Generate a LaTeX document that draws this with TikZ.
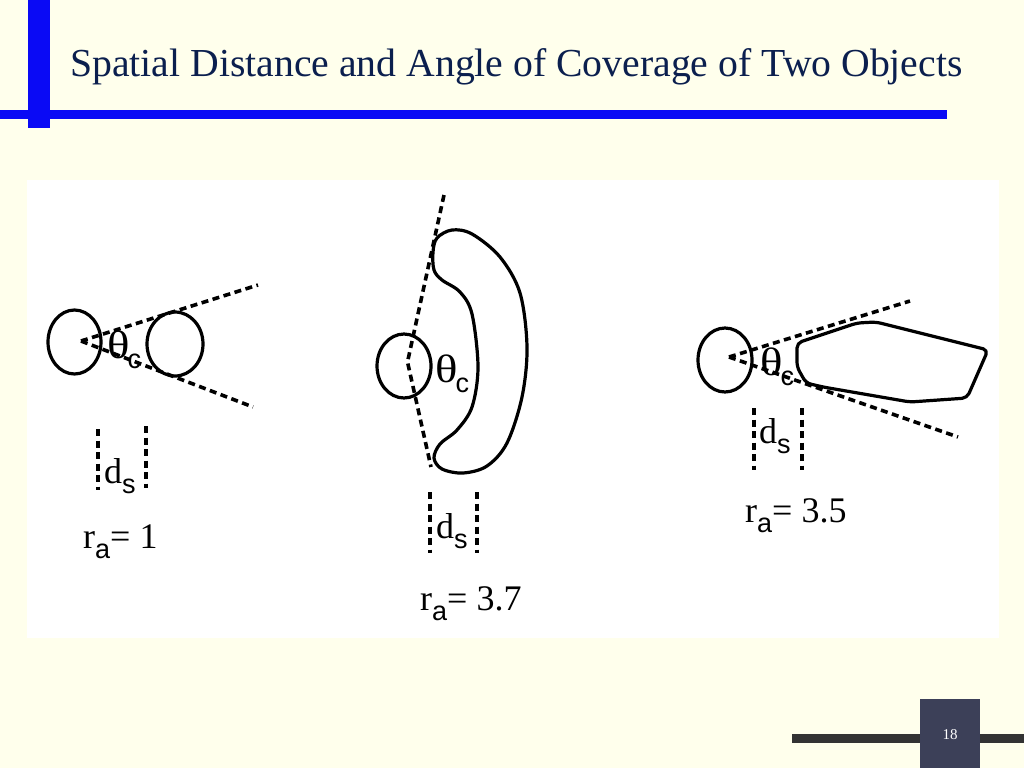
\documentclass[tikz,border=0pt]{standalone}
\usepackage{fontspec}
\setmainfont{Liberation Serif}
\setsansfont{Liberation Sans}
\definecolor{bgc}{HTML}{FFFFEC}
\definecolor{blueb}{HTML}{0A0AF5}
\definecolor{titlec}{HTML}{0B1F4E}
\definecolor{footc}{HTML}{333333}
\definecolor{boxc}{HTML}{3C4058}
\newcommand\mysub[1]{\raisebox{-0.3em}{\sffamily\fontsize{27}{27}\selectfont #1}}
\newcommand\widetheta{\scalebox{1.3}[1.1]{θ}\kern-2pt}
\begin{document}
\begin{tikzpicture}[x=1pt,y=-1pt,
  outline/.style={line width=3.2pt, line join=round},
  dashthick/.style={line width=3.6pt, dash pattern=on 7pt off 4.5pt},
  lbl/.style={inner sep=0pt, anchor=base west, font=\fontsize{36}{36}\selectfont}]
\useasboundingbox (0,0) rectangle (1024,768);
\fill[bgc] (0,0) rectangle (1024,768);
\fill[white] (27,180) rectangle (999,638);
% header bars
\fill[blueb] (28,0) rectangle (50,128);
\fill[blueb] (0,110) rectangle (947,119);
\node[anchor=base west, inner sep=0pt, text=titlec, font=\fontsize{39.7}{40}\selectfont] (title) at (70,76) {Spatial Distance and Angle of Coverage of Two Objects};
% footer
\fill[footc] (792,734) rectangle (1024,743);
\fill[boxc] (920,699) rectangle (980,768);
\node[text=white, inner sep=0pt, font=\fontsize{15}{15}\selectfont] (page) at (950,735) {18};

% ---------- figure 1 ----------
\draw[outline] (74.5,342) ellipse [x radius=26.5, y radius=32];
\draw[outline] (175,344) ellipse [x radius=28, y radius=32];
\coordinate (a1) at (81,341);
\coordinate (u1) at (258,285);
\coordinate (l1) at (253,407);
\draw[dashthick] (a1) -- (u1);
\draw[dashthick] (a1) -- (l1);
\node[lbl] (th1) at (107,358) {\widetheta\mysub{c}};
\coordinate (ds1a) at (98,429);  \coordinate (ds1b) at (98,490);
\coordinate (ds1c) at (146,426); \coordinate (ds1d) at (146,488);
\draw[dashthick] (ds1a) -- (ds1b);
\draw[dashthick] (ds1c) -- (ds1d);
\node[lbl] (d1) at (104,483) {d\mysub{s}};
\node[lbl] (r1) at (83,548) {r\mysub{a}= 1};

% ---------- figure 2 ----------
\draw[outline] (404,366) ellipse [x radius=27, y radius=32];
\coordinate (t2) at (444,195);
\coordinate (a2) at (407.5,362);
\coordinate (b2) at (431,467);
\draw[dashthick] (t2) -- (a2) -- (b2);
\draw[outline] plot[smooth cycle, tension=0.55] coordinates {
 (452,230) (437,238) (433,252) (434,270) (442,280) (460,292) (472,314) (478,367)
 (472,407) (457,430) (440,444) (434,458) (442,469) (463,473) (487,466)
 (507,443) (522,397) (527,347) (520,293) (500,257) (472,234)};
\node[lbl] (th2) at (435,382) {\widetheta\mysub{c}};
\coordinate (ds2a) at (430,492); \coordinate (ds2b) at (430,553);
\coordinate (ds2c) at (477,492); \coordinate (ds2d) at (477,553);
\draw[dashthick] (ds2a) -- (ds2b);
\draw[dashthick] (ds2c) -- (ds2d);
\node[lbl] (d2) at (436,538) {d\mysub{s}};
\node[lbl] (r2) at (420,610) {r\mysub{a}= 3.7};

% ---------- figure 3 ----------
\draw[outline] (725,360) ellipse [x radius=27, y radius=32];
\coordinate (a3) at (729,357);
\coordinate (u3) at (910,301);
\coordinate (l3) at (958,437);
\draw[dashthick] (a3) -- (u3);
\draw[dashthick] (a3) -- (l3);
\draw[outline, rounded corners=5pt] (797,343) -- (857,323) -- (876,322) -- (988,350)
  -- (967,398) -- (910,402) -- (823,387) -- (806,383) -- (797,367) -- cycle;
\node[lbl] (th3) at (760,375) {\widetheta\mysub{c}};
\coordinate (ds3a) at (754,408); \coordinate (ds3b) at (754,470);
\coordinate (ds3c) at (802,408); \coordinate (ds3d) at (802,470);
\draw[dashthick] (ds3a) -- (ds3b);
\draw[dashthick] (ds3c) -- (ds3d);
\node[lbl] (d3) at (759,443) {d\mysub{s}};
\node[lbl] (r3) at (745,522) {r\mysub{a}= 3.5};
\end{tikzpicture}
\end{document}
